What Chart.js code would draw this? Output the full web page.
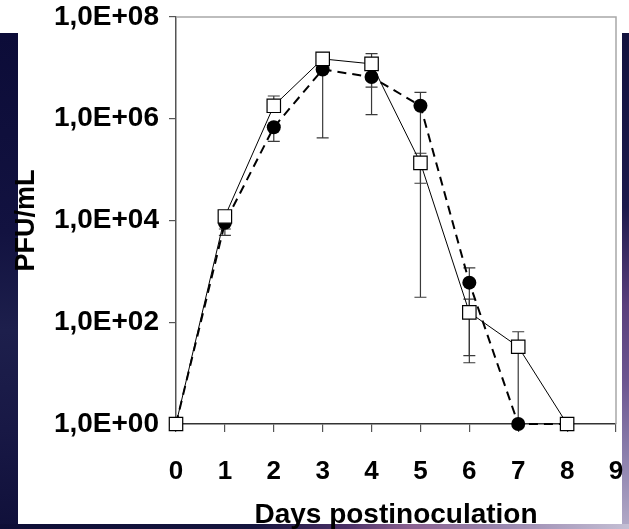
<!DOCTYPE html>
<html>
<head>
<meta charset="utf-8">
<script src="https://cdn.jsdelivr.net/npm/chart.js@4"></script>
<style>
  html, body { margin: 0; padding: 0; background: #fff; }
  #wrap { position: relative; width: 629px; height: 529px; overflow: hidden; background: #fff; }
  .bg { position: absolute; }
  #leftStrip { left: 0; top: 33px; width: 18px; height: 496px;
    background: linear-gradient(to bottom, #0c0c38 0%, #121240 40%, #1d1f4c 60%, #181845 80%, #10103a 100%); }
  #rightStrip { left: 622px; top: 33px; width: 7px; height: 496px;
    background: linear-gradient(to bottom, #12123e 0%, #1c1a4c 35%, #5a3f7c 55%, #6b5590 70%, #8b7fac 85%, #b3abc8 100%); }
  #bottomStrip { left: 0; top: 524px; width: 629px; height: 5px;
    background: linear-gradient(to right, #0e0e36 0%, #15153e 40%, #4a3066 55%, #8a6090 65%, #9a88b0 80%, #c4bfd4 100%); }
  canvas { position: absolute; left: 0; top: 0; }
</style>
</head>
<body>
<div id="wrap">
  <div class="bg" id="leftStrip"></div>
  <div class="bg" id="rightStrip"></div>
  <div class="bg" id="bottomStrip"></div>
  <canvas id="chart" width="629" height="529"></canvas>
</div>
<script>
const days = [0, 1, 2, 3, 4, 5, 6, 7, 8];
const squareValues = [1, 1.2e4, 1.8e6, 1.5e7, 1.2e7, 1.36e5, 156, 33, 1];
const circleValues = [1, 9e3, 6.8e5, 9.3e6, 6.6e6, 1.8e6, 600, 1, 1];
const squareUpper = [null, null, 2.8e6, 2e7, 1.9e7, 2.1e5, 286, 65, null];
const squareLower = [null, 6.8e3, null, null, 4.2e6, 310, 22, 1, null];
const circleUpper = [null, null, null, null, null, 3.3e6, 1170, null, null];
const circleLower = [null, 5.1e3, 3.6e5, 4.2e5, 1.2e6, 5.4e4, 16, null, null];
const xTickValues = [0, 1, 2, 3, 4, 5, 6, 7, 8, 9];
const yTickValues = [1, 1e2, 1e4, 1e6, 1e8];
const yTickLabels = ['1,0E+00', '1,0E+02', '1,0E+04', '1,0E+06', '1,0E+08'];

const FONT = 'Arial, "Liberation Sans", sans-serif';

// error bars, drawn behind the lines and markers
const errorBars = {
    id: 'errorBars',
    beforeDatasetsDraw(chart) {
        const ctx = chart.ctx;
        const x = chart.scales.x, y = chart.scales.y;
        const sets = [[squareValues, squareUpper, squareLower], [circleValues, circleUpper, circleLower]];
        ctx.save();
        ctx.strokeStyle = '#3a3a3a';
        ctx.lineWidth = 1.2;
        sets.forEach(function(s) {
            days.forEach(function(d, i) {
                const px = x.getPixelForValue(d);
                const py = y.getPixelForValue(s[0][i]);
                [s[1][i], s[2][i]].forEach(function(v) {
                    if (v === null) return;
                    const ey = y.getPixelForValue(v);
                    ctx.beginPath();
                    ctx.moveTo(px, py);
                    ctx.lineTo(px, ey);
                    ctx.moveTo(px - 6, ey);
                    ctx.lineTo(px + 6, ey);
                    ctx.stroke();
                });
            });
        });
        ctx.restore();
    }
};

// light frame on top and right of the plot
const frame = {
    id: 'frame',
    beforeDatasetsDraw(chart) {
        const a = chart.chartArea, ctx = chart.ctx;
        ctx.save();
        ctx.strokeStyle = '#a8a8a8';
        ctx.lineWidth = 1.5;
        ctx.beginPath();
        ctx.moveTo(a.left, a.top);
        ctx.lineTo(a.right, a.top);
        ctx.lineTo(a.right, a.bottom);
        ctx.stroke();
        ctx.restore();
    }
};

function noScalePadding(scale) {
    scale.paddingTop = 0;
    scale.paddingBottom = 0;
    scale.paddingLeft = 0;
    scale.paddingRight = 0;
}

new Chart(document.getElementById('chart').getContext('2d'), {
    type: 'line',
    data: {
        datasets: [
            {
                label: 'squares',
                data: days.map((d, i) => ({ x: d, y: squareValues[i] })),
                borderColor: '#000',
                borderWidth: 1,
                pointStyle: 'rect',
                pointRadius: 9.5,
                pointBackgroundColor: '#fff',
                pointBorderColor: '#000',
                pointBorderWidth: 1.2,
                tension: 0,
                clip: false
            },
            {
                label: 'circles',
                data: days.map((d, i) => ({ x: d, y: circleValues[i] })),
                borderColor: '#000',
                borderWidth: 2,
                borderDash: [9, 6],
                pointStyle: 'circle',
                pointRadius: 7,
                pointBackgroundColor: '#000',
                pointBorderColor: '#000',
                pointBorderWidth: 0,
                tension: 0,
                clip: false
            }
        ]
    },
    options: {
        responsive: false,
        animation: false,
        layout: { autoPadding: false, padding: { left: 0, top: 17, right: 13, bottom: 0 } },
        plugins: { legend: { display: false }, tooltip: { enabled: false } },
        scales: {
            x: {
                type: 'linear',
                min: 0,
                max: 9,
                afterBuildTicks: function(scale) {
                    scale.ticks = xTickValues.map(v => ({ value: v }));
                },
                afterFit: function(scale) { scale.height = 105; noScalePadding(scale); },
                grid: { drawOnChartArea: false, tickLength: 8, color: '#555', lineWidth: 1.2 },
                border: { color: '#333', width: 1.5 },
                ticks: {
                    color: '#000',
                    padding: 24,
                    maxRotation: 0,
                    font: { family: FONT, size: 26, weight: 'bold' }
                },
                title: {
                    display: true,
                    text: 'Days postinoculation',
                    color: '#000',
                    font: { family: FONT, size: 28, weight: 'bold', lineHeight: 1 },
                    padding: { top: 0, bottom: 0 }
                }
            },
            y: {
                type: 'logarithmic',
                min: 1,
                max: 1e8,
                afterBuildTicks: function(scale) {
                    scale.ticks = yTickValues.map(v => ({ value: v }));
                },
                afterFit: function(scale) { scale.width = 176; noScalePadding(scale); },
                grid: { drawOnChartArea: false, tickLength: 7, color: '#555', lineWidth: 1.2 },
                border: { color: '#555', width: 1.5 },
                ticks: {
                    color: '#000',
                    padding: 10,
                    font: { family: FONT, size: 28, weight: 'bold' },
                    callback: function(value, index) { return yTickLabels[index]; }
                },
                title: {
                    display: true,
                    text: 'PFU/mL',
                    color: '#000',
                    font: { family: FONT, size: 27, weight: 'bold', lineHeight: 1 },
                    padding: { top: 13, bottom: 0 }
                }
            }
        }
    },
    plugins: [frame, errorBars]
});
</script>
</body>
</html>
